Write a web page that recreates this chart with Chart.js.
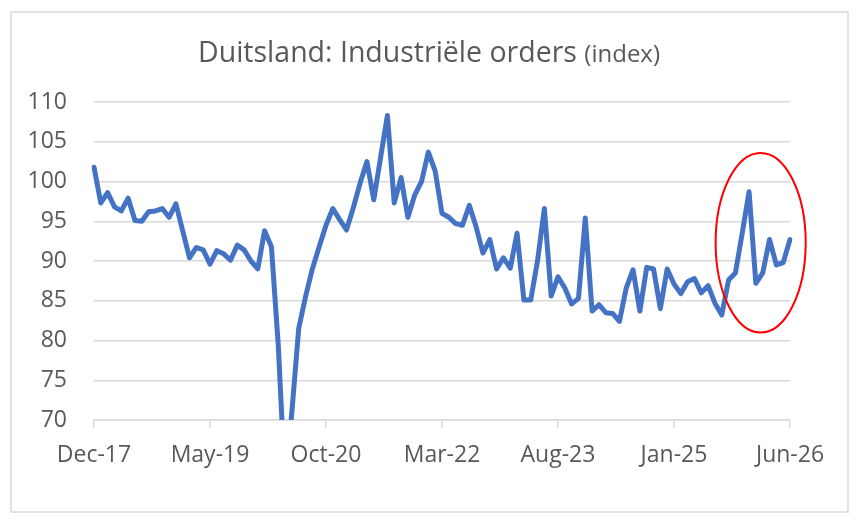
<!DOCTYPE html>
<html>
<head>
<meta charset="utf-8">
<script src="https://cdn.jsdelivr.net/npm/chart.js@4.4.1/dist/chart.umd.min.js"></script>
<style>
html,body{margin:0;padding:0;background:#ffffff;}
#wrap{width:858px;height:522px;position:relative;}
</style>
</head>
<body>
<div id="wrap"><canvas id="c" width="858" height="522"></canvas></div>
<script>
// ---- data ----
const categories = ["Dec-17",
"Jan-18","Feb-18","Mar-18","Apr-18","May-18","Jun-18","Jul-18","Aug-18","Sep-18","Oct-18","Nov-18","Dec-18",
"Jan-19","Feb-19","Mar-19","Apr-19","May-19","Jun-19","Jul-19","Aug-19","Sep-19","Oct-19","Nov-19","Dec-19",
"Jan-20","Feb-20","Mar-20","Apr-20","May-20","Jun-20","Jul-20","Aug-20","Sep-20","Oct-20","Nov-20","Dec-20",
"Jan-21","Feb-21","Mar-21","Apr-21","May-21","Jun-21","Jul-21","Aug-21","Sep-21","Oct-21","Nov-21","Dec-21",
"Jan-22","Feb-22","Mar-22","Apr-22","May-22","Jun-22","Jul-22","Aug-22","Sep-22","Oct-22","Nov-22","Dec-22",
"Jan-23","Feb-23","Mar-23","Apr-23","May-23","Jun-23","Jul-23","Aug-23","Sep-23","Oct-23","Nov-23","Dec-23",
"Jan-24","Feb-24","Mar-24","Apr-24","May-24","Jun-24","Jul-24","Aug-24","Sep-24","Oct-24","Nov-24","Dec-24",
"Jan-25","Feb-25","Mar-25","Apr-25","May-25","Jun-25","Jul-25","Aug-25","Sep-25","Oct-25","Nov-25","Dec-25",
"Jan-26","Feb-26","Mar-26","Apr-26","May-26","Jun-26"];

const orders = [101.8,
97.3, 98.6, 96.8, 96.3, 97.9, 95.1, 95.0, 96.2, 96.3, 96.6, 95.5, 97.2,
93.8, 90.4, 91.7, 91.4, 89.6, 91.3, 90.9, 90.1, 92.0, 91.4, 90.0, 89.0,
93.8, 91.8, 79.5, 62.0, 71.0, 81.5, 85.5, 89.0, 91.8, 94.5, 96.6, 95.2,
93.9, 96.7, 99.8, 102.5, 97.7, 103.0, 108.3, 97.3, 100.5, 95.5, 98.3, 100.0,
103.7, 101.3, 96.0, 95.5, 94.7, 94.5, 97.0, 94.3, 91.0, 92.7, 89.0, 90.4,
89.1, 93.5, 85.1, 85.1, 90.0, 96.6, 85.6, 88.0, 86.6, 84.6, 85.3, 95.4,
83.7, 84.5, 83.5, 83.4, 82.4, 86.6, 88.9, 83.7, 89.2, 89.0, 84.0, 89.0,
87.1, 85.9, 87.4, 87.8, 86.0, 86.9, 84.7, 83.2, 87.6, 88.5, 93.5, 98.7,
87.2, 88.5, 92.7, 89.5, 89.8, 92.7];

const xTickLabels = ["Dec-17","May-19","Oct-20","Mar-22","Aug-23","Jan-25","Jun-26"];
const yMin = 70, yMax = 110, yStep = 5;

const titleMain = "Duitsland: Industriële orders";
const titleSub = "(index)";

// highlighted region (in data units: category index / value)
const highlightCenterIndex = 97.7;
const highlightCenterValue = 92.3;
const highlightHalfMonths = 6.6;
const highlightHalfUnits = 11.3;

// ---- style ----
const FONT = "'Open Sans', sans-serif";
const TEXT = '#595959';
const GRID = '#d9d9d9';

const framePlugin = {
  id: 'frame',
  beforeDraw(chart) {
    const ctx = chart.ctx;
    ctx.save();
    ctx.fillStyle = '#ffffff';
    ctx.fillRect(0, 0, chart.width, chart.height);
    ctx.strokeStyle = GRID;
    ctx.lineWidth = 1.5;
    ctx.strokeRect(11, 12, 837, 500);
    ctx.restore();
  }
};

const titlePlugin = {
  id: 'richTitle',
  afterDraw(chart) {
    const ctx = chart.ctx;
    ctx.save();
    ctx.fillStyle = TEXT;
    ctx.textBaseline = 'alphabetic';
    ctx.textAlign = 'left';
    const f1 = "28.5px " + FONT, f2 = "24px " + FONT;
    ctx.font = f1;
    const w1 = ctx.measureText(titleMain + " ").width;
    ctx.font = f2;
    const w2 = ctx.measureText(titleSub).width;
    const x0 = chart.width / 2 - (w1 + w2) / 2;
    const y = 62;
    ctx.font = f1;
    ctx.fillText(titleMain + " ", x0, y);
    ctx.font = f2;
    ctx.fillText(titleSub, x0 + w1, y);
    ctx.restore();
  }
};

const ellipsePlugin = {
  id: 'highlight',
  afterDatasetsDraw(chart) {
    const xs = chart.scales.x, ys = chart.scales.y;
    const cx = xs.getPixelForValue(highlightCenterIndex);
    const cy = ys.getPixelForValue(highlightCenterValue);
    const rx = Math.abs(xs.getPixelForValue(highlightCenterIndex + highlightHalfMonths) - cx);
    const ry = Math.abs(ys.getPixelForValue(highlightCenterValue + highlightHalfUnits) - cy);
    const ctx = chart.ctx;
    ctx.save();
    ctx.strokeStyle = '#ff0000';
    ctx.lineWidth = 2;
    ctx.beginPath();
    ctx.ellipse(cx, cy, rx, ry, 0, 0, Math.PI * 2);
    ctx.stroke();
    ctx.restore();
  }
};

new Chart(document.getElementById('c'), {
  type: 'line',
  data: {
    labels: categories,
    datasets: [{
      label: 'Industriële orders',
      data: orders,
      borderColor: '#4472C4',
      backgroundColor: '#4472C4',
      borderWidth: 5,
      pointRadius: 0,
      pointHoverRadius: 0,
      tension: 0,
      borderJoinStyle: 'round',
      borderCapStyle: 'round',
      fill: false
    }]
  },
  options: {
    responsive: false,
    animation: false,
    devicePixelRatio: 1,
    layout: { padding: { top: 102, right: 68, bottom: 42, left: 0 } },
    plugins: {
      legend: { display: false },
      title: { display: false },
      tooltip: { enabled: false }
    },
    scales: {
      x: {
        type: 'category',
        offset: false,
        border: { display: true, color: GRID, width: 1.5 },
        grid: {
          drawOnChartArea: false,
          drawTicks: true,
          tickLength: 8,
          lineWidth: 1.5,
          color: (c) => (c.index !== undefined && xTickLabels.includes(categories[c.index])) ? GRID : 'rgba(0,0,0,0)'
        },
        ticks: {
          autoSkip: false,
          maxRotation: 0,
          minRotation: 0,
          padding: 14,
          color: TEXT,
          font: { family: FONT, size: 23 },
          callback: function(val, idx) {
            const l = categories[idx];
            return xTickLabels.includes(l) ? l : '';
          }
        },
        afterFit(scale) { scale.height = 60; }
      },
      y: {
        min: yMin,
        max: yMax,
        border: { display: false },
        grid: { color: GRID, lineWidth: 1.5, drawTicks: false },
        ticks: {
          stepSize: yStep,
          padding: 27,
          color: TEXT,
          font: { family: FONT, size: 23 }
        },
        afterFit(scale) { scale.width = 94; }
      }
    }
  },
  plugins: [framePlugin, titlePlugin, ellipsePlugin]
});
</script>
</body>
</html>
